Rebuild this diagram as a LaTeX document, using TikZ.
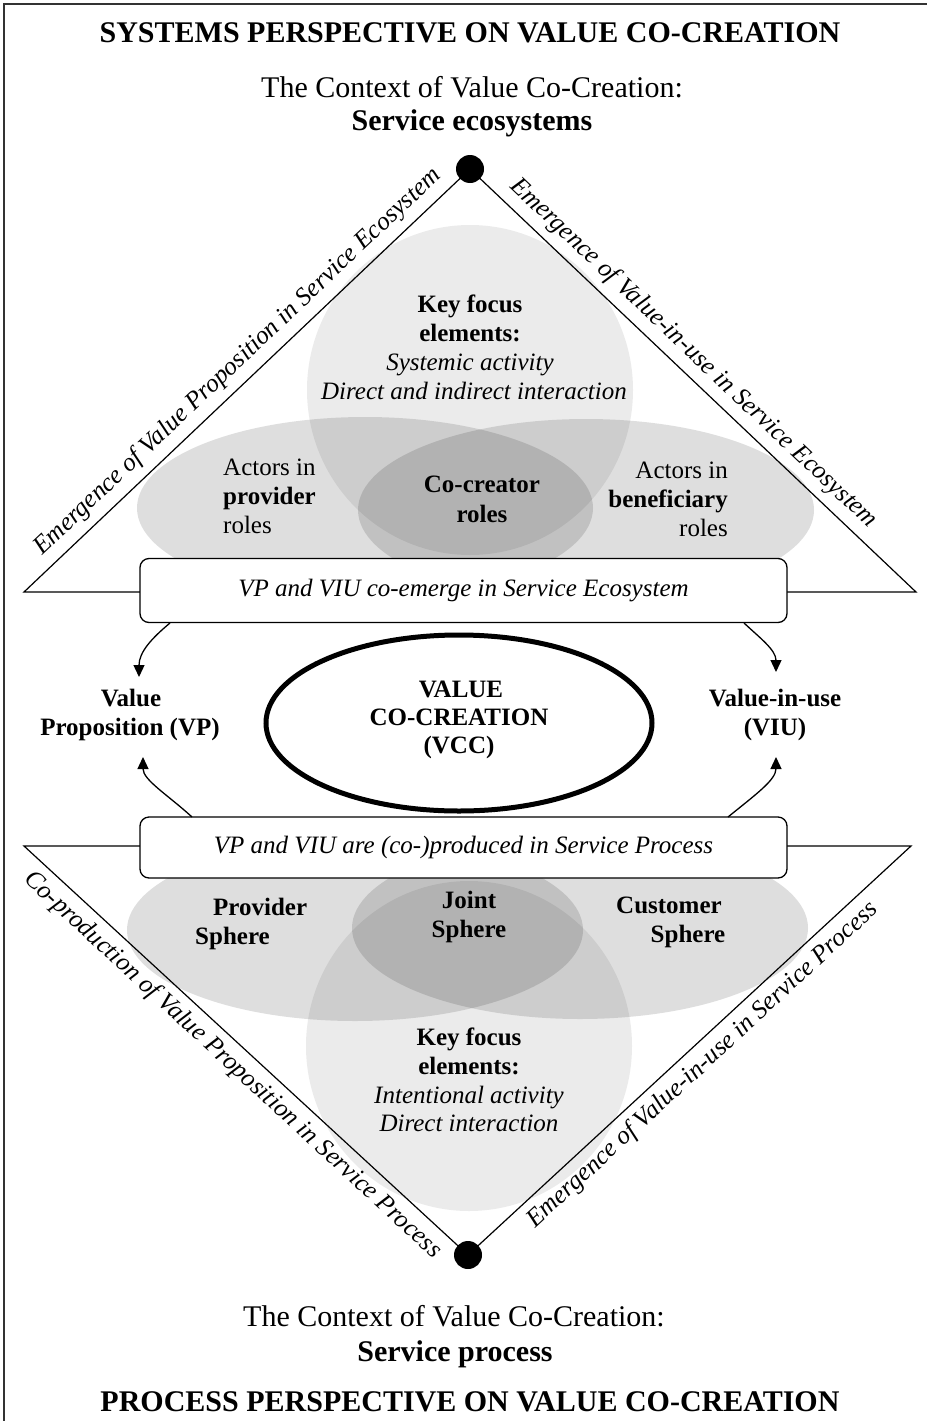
\documentclass[tikz,border=0pt]{standalone}
\usepackage{fontspec}
\setmainfont{Liberation Serif}
\usetikzlibrary{arrows.meta,shapes.geometric}
\begin{document}
\begin{tikzpicture}[x=1pt,y=-1pt,
  every node/.style={inner sep=0pt},
  rm/.style={anchor=base, font=\fontsize{25}{29}\selectfont},
  bf/.style={anchor=base, font=\fontsize{25}{29}\selectfont\bfseries},
  itl/.style={anchor=base, font=\fontsize{25}{29}\selectfont\itshape},
  hd/.style={anchor=base, font=\fontsize{30}{34}\selectfont},
  hdb/.style={anchor=base, font=\fontsize{30}{34}\selectfont\bfseries},
  keyell/.style={ellipse, fill=black, fill opacity=0.08, draw=none, minimum width=326, minimum height=330},
  sideell/.style={ellipse, fill=black, fill opacity=0.13, draw=none, minimum width=456, minimum height=182},
  edgeline/.style={line width=1.2pt, black},
  dotn/.style={circle, fill=black, minimum size=28},
  cbox/.style={draw=black, line width=1.3pt, fill=white, rounded corners=9pt, minimum width=647, minimum height=64, font=\fontsize{25}{29}\selectfont\itshape},
  vcc/.style={ellipse, draw=black, line width=5pt, minimum width=386, minimum height=176},
  arr/.style={line width=1.3pt, -{Triangle[length=12pt,width=11pt]}},
  slab/.style={font=\fontsize{25.5}{29}\selectfont\itshape, sloped, inner sep=8pt},
]
\useasboundingbox (0,0) rectangle (927,1421);
% frame
\draw[line width=2pt, black!80] (4,1421) -- (4,4) -- (927,4);

% shaded ellipses
\node[keyell] (kfT) at (470,390) {};
\node[sideell] (provT) at (365,508) {};
\node[sideell] (benT) at (586,510) {};
\node[keyell] (kfB) at (469,1046) {};
\node[sideell] (provB) at (355,930) {};
\node[sideell] (custB) at (580,928) {};

% triangles
\coordinate (tL) at (24,592);
\coordinate (tR) at (916,592);
\coordinate (tA) at (470,169);
\coordinate (bL) at (24,846);
\coordinate (bR) at (911,846);
\coordinate (bA) at (468,1255);
\draw[edgeline] (tL) -- (tA) -- (tR) -- cycle;
\draw[edgeline] (bL) -- (bA) -- (bR) -- cycle;

\path (tL) -- (tA) node[slab, above, pos=0.51] (lblTL) {Emergence of Value Proposition in Service Ecosystem};
\path (tA) -- (tR) node[slab, above, pos=0.47] (lblTR) {Emergence of Value-in-use in Service Ecosystem};
\path (bL) -- (bA) node[slab, below, pos=0.5] (lblBL) {Co-production of Value Proposition in Service Process};
\path (bA) -- (bR) node[slab, below, pos=0.5] (lblBR) {Emergence of Value-in-use in Service Process};

\node[dotn] (dotT) at (tA) {};
\node[dotn] (dotB) at (bA) {};

% boxes
\node[cbox] (box1) at (463.5,590.5) {VP and VIU co-emerge in Service Ecosystem};
\node[cbox, minimum height=61] (box2) at (463.5,847.5) {VP and VIU are (co-)produced in Service Process};

% central ellipse
\node[vcc] (vccE) at (459,723) {};
\node[bf] (vcc1) at (461,697) {VALUE};
\node[bf] (vcc2) at (459,725) {CO-CREATION};
\node[bf] (vcc3) at (459,753) {(VCC)};

% side labels
\node[bf] (vp1) at (131,706) {Value};
\node[bf] (vp2) at (130,735) {Proposition (VP)};
\node[bf] (viu1) at (775,706) {Value-in-use};
\node[bf] (viu2) at (775,735) {(VIU)};

% arrows
\coordinate (a1s) at (170,623);
\coordinate (a1e) at (139,677);
\coordinate (a2s) at (192,817);
\coordinate (a2e) at (143,757);
\coordinate (a3s) at (744,623);
\coordinate (a3e) at (776,672);
\coordinate (a4s) at (728,817);
\coordinate (a4e) at (776,757);
\draw[arr] (a1s) .. controls (152,638) and (139,652) .. (a1e);
\draw[arr] (a2s) .. controls (168,795) and (143,780) .. (a2e);
\draw[arr] (a3s) .. controls (760,638) and (776,650) .. (a3e);
\draw[arr] (a4s) .. controls (755,795) and (776,780) .. (a4e);

% upper inner texts
\node[bf] (kt1) at (470,312) {Key focus};
\node[bf] (kt2) at (470,341) {elements:};
\node[itl] (kt3) at (470,370) {Systemic activity};
\node[itl] (kt4) at (474,399) {Direct and indirect interaction};
\node[rm, anchor=base west] (ap1) at (223,475) {Actors in};
\node[bf, anchor=base west] (ap2) at (223,504) {provider};
\node[rm, anchor=base west] (ap3) at (223,533) {roles};
\node[bf] (cc1) at (482,492) {Co-creator};
\node[bf] (cc2) at (482,522) {roles};
\node[rm, anchor=base east] (ab1) at (728,478) {Actors in};
\node[bf, anchor=base east] (ab2) at (728,507) {beneficiary};
\node[rm, anchor=base east] (ab3) at (728,536) {roles};

% lower inner texts
\node[bf, anchor=base west] (ps1) at (213,915) {Provider};
\node[bf, anchor=base west] (ps2) at (195,944) {Sphere};
\node[bf] (js1) at (469,908) {Joint};
\node[bf] (js2) at (469,937) {Sphere};
\node[bf] (cs1) at (669,913) {Customer};
\node[bf] (cs2) at (688,942) {Sphere};
\node[bf] (kb1) at (469,1045) {Key focus};
\node[bf] (kb2) at (469,1074) {elements:};
\node[itl] (kb3) at (469,1103) {Intentional activity};
\node[itl] (kb4) at (469,1131) {Direct interaction};

% headers
\node[hdb] (title1) at (470,43) {SYSTEMS PERSPECTIVE ON VALUE CO-CREATION};
\node[hd] (ctx1) at (472,97) {The Context of Value Co-Creation:};
\node[hdb] (eco) at (472,130) {Service ecosystems};
\node[hd] (ctx2) at (454,1326) {The Context of Value Co-Creation:};
\node[hdb] (proc) at (455,1361) {Service process};
\node[hdb] (title2) at (470,1411) {PROCESS PERSPECTIVE ON VALUE CO-CREATION};
\end{tikzpicture}
\end{document}
